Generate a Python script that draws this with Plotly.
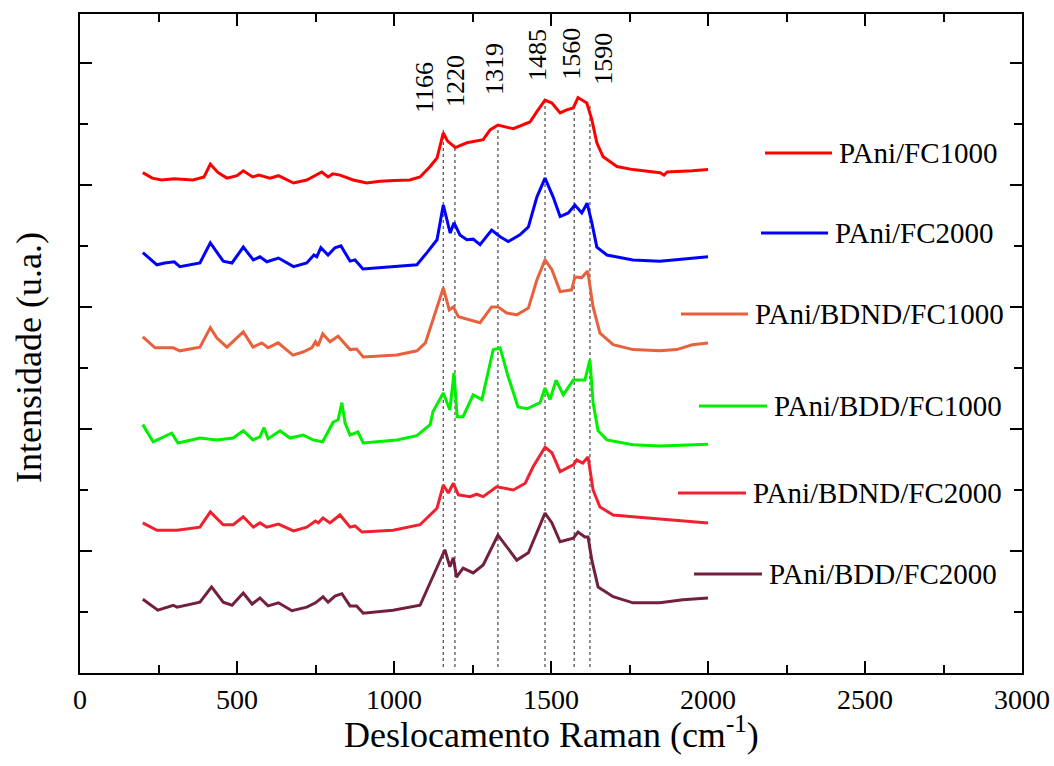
import plotly.graph_objects as go

# ---------------- data ----------------
names = ["PAni/FC1000", "PAni/FC2000", "PAni/BDND/FC1000",
         "PAni/BDD/FC1000", "PAni/BDND/FC2000", "PAni/BDD/FC2000"]

fc1000_x = [200, 230, 260, 300, 360, 395, 415, 440, 468, 500, 520, 550, 570, 605, 632, 680, 722, 750, 770, 790,
            805, 828, 870, 913, 955, 1000, 1050, 1083, 1115, 1137, 1157, 1170, 1185, 1195, 1232, 1284, 1306, 1331,
            1380, 1433, 1455, 1481, 1503, 1529, 1550, 1571, 1586, 1614, 1630, 1646, 1666, 1710, 1761, 1800, 1847,
            1860, 1870, 1950, 2000]
fc1000_y = [8.20, 8.11, 8.08, 8.10, 8.08, 8.13, 8.34, 8.20, 8.11, 8.15, 8.23, 8.13, 8.16, 8.11, 8.15, 8.03, 8.08,
            8.16, 8.21, 8.13, 8.18, 8.16, 8.08, 8.03, 8.06, 8.07, 8.08, 8.13, 8.30, 8.44, 8.85, 8.72, 8.66, 8.61,
            8.69, 8.74, 8.90, 8.98, 8.92, 9.03, 9.20, 9.39, 9.34, 9.18, 9.23, 9.26, 9.43, 9.34, 9.07, 8.69, 8.46,
            8.30, 8.25, 8.23, 8.20, 8.16, 8.21, 8.23, 8.25]

fc2000_x = [200, 245, 270, 300, 318, 382, 415, 456, 484, 520, 552, 573, 595, 632, 680, 722, 745, 754, 767, 790,
            812, 831, 860, 876, 901, 997, 1073, 1105, 1137, 1157, 1179, 1191, 1210, 1232, 1252, 1274, 1311, 1338,
            1364, 1401, 1428, 1455, 1481, 1507, 1529, 1555, 1576, 1598, 1615, 1630, 1646, 1678, 1761, 1847, 2000]
fc2000_y = [6.89, 6.69, 6.72, 6.74, 6.66, 6.72, 7.05, 6.75, 6.72, 6.98, 6.77, 6.82, 6.74, 6.80, 6.66, 6.72, 6.85,
            6.82, 6.97, 6.85, 6.97, 7.00, 6.75, 6.77, 6.62, 6.66, 6.69, 6.89, 7.10, 7.67, 7.21, 7.38, 7.18, 7.10,
            7.11, 7.02, 7.26, 7.15, 7.07, 7.18, 7.31, 7.80, 8.11, 7.80, 7.48, 7.54, 7.67, 7.54, 7.70, 7.38, 6.98,
            6.85, 6.77, 6.75, 6.82]

bdnd1000_x = [200, 239, 297, 318, 382, 415, 436, 468, 520, 551, 579, 599, 631, 678, 710, 738, 750, 758, 773, 796,
              822, 860, 881, 902, 1009, 1073, 1100, 1124, 1157, 1176, 1189, 1205, 1242, 1274, 1311, 1331, 1359,
              1391, 1428, 1455, 1481, 1503, 1529, 1566, 1576, 1598, 1617, 1634, 1656, 1698, 1761, 1847, 1900,
              1950, 2000]
bdnd1000_y = [5.51, 5.33, 5.33, 5.28, 5.34, 5.66, 5.49, 5.34, 5.59, 5.34, 5.41, 5.33, 5.41, 5.21, 5.26, 5.33, 5.43,
              5.36, 5.56, 5.43, 5.52, 5.30, 5.31, 5.18, 5.21, 5.28, 5.41, 5.79, 6.31, 5.95, 6.00, 5.84, 5.79, 5.74,
              6.00, 6.00, 5.90, 5.87, 5.98, 6.44, 6.77, 6.61, 6.25, 6.28, 6.49, 6.48, 6.59, 6.00, 5.57, 5.38, 5.30,
              5.28, 5.30, 5.38, 5.41]

bdd1000_x = [200, 233, 292, 312, 382, 436, 488, 520, 551, 573, 586, 599, 637, 669, 711, 742, 773, 806, 822, 834,
             844, 860, 885, 902, 1009, 1073, 1115, 1124, 1157, 1178, 1191, 1201, 1220, 1252, 1280, 1316, 1338, 1364,
             1395, 1424, 1465, 1481, 1497, 1516, 1539, 1571, 1608, 1624, 1634, 1650, 1678, 1761, 1847, 2000]
bdd1000_y = [4.07, 3.79, 3.93, 3.77, 3.85, 3.82, 3.85, 3.97, 3.82, 3.87, 4.02, 3.84, 3.97, 3.85, 3.90, 3.82, 3.79,
             4.11, 4.15, 4.43, 4.10, 3.90, 3.95, 3.77, 3.82, 3.89, 4.07, 4.28, 4.59, 4.31, 4.92, 4.20, 4.20, 4.56,
             4.48, 5.30, 5.33, 4.85, 4.36, 4.33, 4.43, 4.67, 4.48, 4.80, 4.56, 4.80, 4.80, 5.13, 4.43, 3.97, 3.82,
             3.74, 3.72, 3.75]

bdnd2000_x = [200, 245, 309, 382, 415, 456, 488, 520, 552, 573, 595, 632, 680, 722, 750, 759, 774, 796, 828, 860,
              876, 898, 997, 1083, 1137, 1157, 1173, 1189, 1205, 1242, 1263, 1284, 1327, 1380, 1418, 1443, 1481,
              1503, 1529, 1571, 1582, 1601, 1618, 1634, 1656, 1698, 1761, 1847, 2000]
bdnd2000_y = [2.46, 2.34, 2.34, 2.39, 2.64, 2.43, 2.43, 2.56, 2.39, 2.46, 2.39, 2.44, 2.33, 2.39, 2.49, 2.46, 2.54,
              2.46, 2.59, 2.39, 2.41, 2.31, 2.34, 2.43, 2.70, 3.08, 2.95, 3.11, 2.92, 2.89, 2.93, 2.89, 3.05, 3.00,
              3.11, 3.38, 3.70, 3.61, 3.30, 3.41, 3.49, 3.44, 3.54, 3.00, 2.72, 2.59, 2.56, 2.52, 2.46]

bdd2000_x = [200, 248, 297, 309, 382, 419, 456, 484, 520, 548, 573, 599, 632, 675, 722, 750, 774, 790, 812, 834,
             860, 881, 902, 997, 1083, 1124, 1162, 1178, 1189, 1199, 1220, 1252, 1284, 1331, 1391, 1428, 1481, 1503,
             1529, 1571, 1586, 1608, 1618, 1630, 1650, 1698, 1761, 1847, 1920, 2000]
bdd2000_y = [1.21, 1.03, 1.11, 1.08, 1.16, 1.41, 1.16, 1.11, 1.31, 1.13, 1.23, 1.10, 1.15, 1.02, 1.08, 1.15, 1.25,
             1.16, 1.26, 1.30, 1.10, 1.10, 0.98, 1.03, 1.11, 1.57, 2.02, 1.74, 1.89, 1.57, 1.72, 1.64, 1.77, 2.26,
             1.85, 1.97, 2.62, 2.46, 2.15, 2.21, 2.31, 2.23, 2.23, 1.85, 1.41, 1.25, 1.15, 1.15, 1.20, 1.23]

series_x = [fc1000_x, fc2000_x, bdnd1000_x, bdd1000_x, bdnd2000_x, bdd2000_x]
series_y = [fc1000_y, fc2000_y, bdnd1000_y, bdd1000_y, bdnd2000_y, bdd2000_y]

# reference (dotted) lines and their labels
peak_labels = ["1166", "1220", "1319", "1485", "1560", "1590"]
peak_line_x = [1157, 1194, 1331, 1481, 1574, 1624]
peak_line_top = [8.90, 8.66, 9.02, 9.39, 9.23, 9.34]
peak_line_bottom = 0.10

x_ticks = [0, 500, 1000, 1500, 2000, 2500, 3000]

# ---------------- styles ----------------
colors = ["#FF0000", "#0000FF", "#E8603C", "#00F000", "#F0202E", "#732040"]
FONT = "Liberation Serif"
label_x = [1099, 1194, 1322, 1459, 1567, 1666]
label_y = [9.59, 9.70, 9.90, 10.13, 10.15, 10.07]

fig = go.Figure()

for lx, top in zip(peak_line_x, peak_line_top):
    fig.add_trace(go.Scatter(x=[lx, lx], y=[peak_line_bottom, top], mode="lines",
                             line=dict(color="#555555", width=1.3, dash="dot"),
                             showlegend=False, hoverinfo="skip"))

for sx, sy, c, n in zip(series_x, series_y, colors, names):
    fig.add_trace(go.Scatter(x=sx, y=sy, mode="lines", name=n,
                             line=dict(color=c, width=3), showlegend=False))

for t, lx, ly in zip(peak_labels, label_x, label_y):
    fig.add_annotation(x=lx, y=ly, xref="x", yref="y", text=t, textangle=-90,
                       showarrow=False, font=dict(family=FONT, size=26, color="black"))

# custom legend (line sample + text), placed like the reference
W, H = 1054, 766
L, R, T, B = 80, 32, 14, 93
pw, ph = W - L - R, H - T - B


def px_to_paper(px, py):
    return (px - L) / pw, (H - B - py) / ph


legend_pos = [(765, 832, 153), (761, 828, 233), (681, 748, 314),
              (699, 767, 406), (678, 746, 493), (694, 762, 574)]
for (x0, x1, yy), c, n in zip(legend_pos, colors, names):
    a0, b0 = px_to_paper(x0, yy)
    a1, _ = px_to_paper(x1, yy)
    fig.add_shape(type="line", xref="paper", yref="paper", x0=a0, x1=a1, y0=b0, y1=b0,
                  line=dict(color=c, width=3))
    tx, _ = px_to_paper(x1 + 5, yy)
    fig.add_annotation(x=tx, y=b0, xref="paper", yref="paper", text=n, showarrow=False,
                       xanchor="left", yanchor="middle",
                       font=dict(family=FONT, size=29, color="black"))

# axis titles
xtx, xty = px_to_paper(551, 733)
fig.add_annotation(x=xtx, y=xty, xref="paper", yref="paper",
                   text="Deslocamento Raman (cm<sup>-1</sup>)", showarrow=False,
                   xanchor="center", yanchor="middle",
                   font=dict(family=FONT, size=36, color="black"))
ytx, yty = px_to_paper(29, 358)
fig.add_annotation(x=ytx, y=yty, xref="paper", yref="paper",
                   text="Intensidade (u.a.)", showarrow=False, textangle=-90,
                   xanchor="center", yanchor="middle",
                   font=dict(family=FONT, size=36, color="black"))

fig.update_xaxes(range=[0, 3000], tickvals=x_ticks, ticktext=[str(v) for v in x_ticks],
                 ticks="inside", ticklen=12, tickwidth=2, tickcolor="black",
                 minor=dict(dtick=250, tick0=0, ticks="inside", ticklen=8, tickwidth=2, tickcolor="black"),
                 showline=True, linecolor="black", linewidth=2, mirror="ticks",
                 showgrid=False, zeroline=False,
                 tickfont=dict(family=FONT, size=28, color="black"))
fig.update_yaxes(range=[0, 10.8], tick0=0, dtick=2, showticklabels=False,
                 ticks="inside", ticklen=12, tickwidth=2, tickcolor="black",
                 minor=dict(dtick=1, tick0=0, ticks="inside", ticklen=8, tickwidth=2, tickcolor="black"),
                 showline=True, linecolor="black", linewidth=2, mirror="ticks",
                 showgrid=False, zeroline=False)

fig.update_layout(width=W, height=H, margin=dict(l=L, r=R, t=T, b=B, autoexpand=False),
                  plot_bgcolor="white", paper_bgcolor="white", showlegend=False,
                  font=dict(family=FONT, color="black"))

fig.write_html("out.html", config={"displayModeBar": False},
               post_script="document.body.style.margin='0px'; document.body.style.overflow='hidden';")
